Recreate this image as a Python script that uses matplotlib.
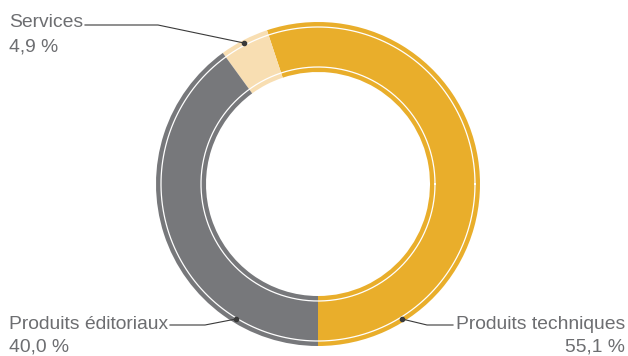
import matplotlib
matplotlib.use("Agg")
import matplotlib.pyplot as plt
import numpy as np

categories = ["Produits techniques", "Services", "Produits éditoriaux"]
values = [55.1, 4.9, 40.0]
value_labels = ["55,1 %", "4,9 %", "40,0 %"]
colors = ["#E9AE2B", "#F8DEB2", "#77787B"]

W, H = 628, 356
CX, CY, R = 318, 184, 162

fig = plt.figure(figsize=(W / 100, H / 100), dpi=100)
ax = fig.add_axes([0, 0, 1, 1])

ax.pie(values, colors=colors, startangle=-90, counterclock=True, radius=1.0,
       wedgeprops=dict(width=50 / R, linewidth=0))

ax.set_aspect("auto")
ax.set_xlim(-CX / R, (W - CX) / R)
ax.set_ylim(-(H - CY) / R, CY / R)
ax.axis("off")

t = np.linspace(0, 2 * np.pi, 400)
for rr in (157 / R, 117 / R):
    ax.plot(rr * np.cos(t), rr * np.sin(t), color="white", lw=0.9)

def p(px, py):
    return ((px - CX) / R, (CY - py) / R)

txt_col = "#6D6E71"
line_col = "#3A3A3A"
font = dict(family=["Liberation Sans", "DejaVu Sans"], color=txt_col, fontsize=13.9)

# Services
x0, y0 = p(244, 43)
x1, y1 = p(158, 25)
x2, y2 = p(85, 25)
ax.plot([x0, x1, x2], [y0, y1, y2], color=line_col, lw=0.8)
ax.plot([x0], [y0], "o", color=line_col, ms=3)
tx, ty = p(9, 27)
ax.text(tx, ty, categories[1], ha="left", va="baseline", **font)
tx, ty = p(9, 52)
ax.text(tx, ty, value_labels[1], ha="left", va="baseline", **font)

# Produits éditoriaux
x0, y0 = p(236, 319)
x1, y1 = p(205, 325)
x2, y2 = p(170, 325)
ax.plot([x0, x1, x2], [y0, y1, y2], color=line_col, lw=0.8)
ax.plot([x0], [y0], "o", color=line_col, ms=3)
tx, ty = p(9, 329)
ax.text(tx, ty, categories[2], ha="left", va="baseline", **font)
tx, ty = p(9, 352)
ax.text(tx, ty, value_labels[2], ha="left", va="baseline", **font)

# Produits techniques
x0, y0 = p(402, 319)
x1, y1 = p(427, 325)
x2, y2 = p(453, 325)
ax.plot([x0, x1, x2], [y0, y1, y2], color=line_col, lw=0.8)
ax.plot([x0], [y0], "o", color=line_col, ms=3)
tx, ty = p(625, 329)
ax.text(tx, ty, categories[0], ha="right", va="baseline", **font)
tx, ty = p(625, 352)
ax.text(tx, ty, value_labels[0], ha="right", va="baseline", **font)

fig.savefig("out.png", dpi=100)
